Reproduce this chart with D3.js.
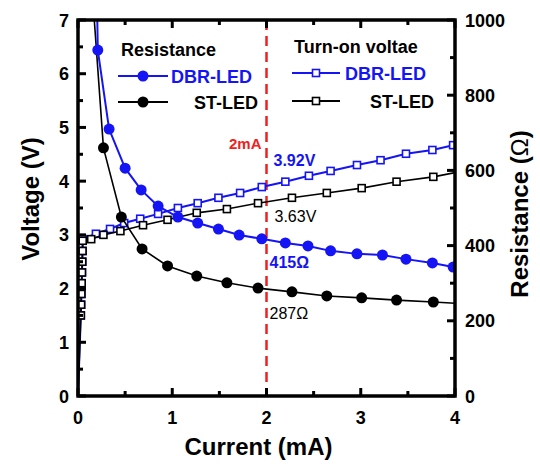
<!DOCTYPE html>
<html>
<head>
<meta charset="utf-8">
<script src="https://cdn.jsdelivr.net/npm/d3@7"></script>
<style>
  body { margin: 0; background: #fff; }
  svg { display: block; font-family: "Liberation Sans", Arial, sans-serif; }
</style>
</head>
<body>
<script>
// resistance series (right axis, Ω)
const dbrResCurrent = [0.195, 0.21, 0.33, 0.50, 0.67, 0.85, 1.06, 1.27, 1.49, 1.71, 1.95, 2.20, 2.44, 2.68, 2.96, 3.23, 3.48, 3.76, 3.98];
const dbrResValue   = [1150, 920, 710, 606, 548, 505, 476, 460, 444, 428, 418, 407, 399, 386, 378, 375, 364, 354, 343];
const stResCurrent  = [0.15, 0.27, 0.46, 0.68, 0.95, 1.26, 1.58, 1.91, 2.27, 2.64, 3.01, 3.38, 3.77, 4.10];
const stResValue    = [1080, 660, 476, 391, 346, 319, 301, 287, 277, 266, 261, 255, 250, 245];

// turn-on voltage series (left axis, V)
const dbrVCurrent = [0, 0.02, 0.03, 0.033, 0.036, 0.039, 0.042, 0.045, 0.048, 0.05, 0.19, 0.34, 0.49, 0.66, 0.85, 1.06, 1.27, 1.49, 1.72, 1.95, 2.20, 2.45, 2.68, 2.96, 3.21, 3.48, 3.76, 3.98];
const dbrVValue   = [0, 1.0, 1.5, 1.7, 1.9, 2.1, 2.3, 2.5, 2.7, 2.92, 3.02, 3.11, 3.22, 3.30, 3.39, 3.50, 3.59, 3.69, 3.78, 3.89, 3.99, 4.10, 4.19, 4.30, 4.39, 4.51, 4.58, 4.67];
const stVCurrent  = [0, 0.02, 0.03, 0.033, 0.036, 0.039, 0.042, 0.045, 0.048, 0.05, 0.14, 0.27, 0.45, 0.69, 0.95, 1.26, 1.58, 1.91, 2.27, 2.64, 3.01, 3.38, 3.77, 4.12];
const stVValue    = [0, 1.0, 1.5, 1.7, 1.9, 2.1, 2.3, 2.5, 2.7, 2.89, 2.92, 3.00, 3.07, 3.18, 3.28, 3.41, 3.48, 3.59, 3.69, 3.78, 3.87, 3.99, 4.08, 4.20];

const xTicks = [0, 1, 2, 3, 4];
const vTicks = [0, 1, 2, 3, 4, 5, 6, 7];
const rTicks = [0, 200, 400, 600, 800, 1000];
const markCurrent = 2;

const blue = "#1414f5";
const red = "#f02020";
const width = 540, height = 464;
const pLeft = 78, pRight = 455, pTop = 20, pBottom = 396;

const svg = d3.select("body").append("svg")
  .attr("width", width)
  .attr("height", height);

const x = d3.scaleLinear().domain([0, 4]).range([pLeft, pRight]);
const yV = d3.scaleLinear().domain([0, 7]).range([pBottom, pTop]);
const yR = d3.scaleLinear().domain([0, 1000]).range([pBottom, pTop]);

svg.append("clipPath").attr("id", "plot")
  .append("rect")
  .attr("x", pLeft).attr("y", pTop)
  .attr("width", pRight - pLeft).attr("height", pBottom - pTop);

const zip = (a, b) => a.map((v, i) => [v, b[i]]);

const plot = svg.append("g").attr("clip-path", "url(#plot)");

// 2 mA guide
plot.append("line")
  .attr("x1", x(markCurrent)).attr("x2", x(markCurrent))
  .attr("y1", pTop).attr("y2", pBottom)
  .attr("stroke", red).attr("stroke-width", 2.5)
  .attr("stroke-dasharray", "10,6");

const series = [
  {pts: zip(dbrVCurrent, dbrVValue), y: yV, color: blue, shape: "square"},
  {pts: zip(stVCurrent, stVValue), y: yV, color: "#000", shape: "square"},
  {pts: zip(stResCurrent, stResValue), y: yR, color: "#000", shape: "circle"},
  {pts: zip(dbrResCurrent, dbrResValue), y: yR, color: blue, shape: "circle"},
];

series.forEach(s => {
  const line = d3.line().x(d => x(d[0])).y(d => s.y(d[1]));
  plot.append("path")
    .attr("d", line(s.pts))
    .attr("fill", "none")
    .attr("stroke", s.color)
    .attr("stroke-width", s.color === blue ? 2 : 1.6);

  const pts = s.pts.filter(d => d[1] > 1.2);
  if (s.shape === "circle") {
    plot.selectAll(null).data(pts).join("circle")
      .attr("cx", d => x(d[0])).attr("cy", d => s.y(d[1]))
      .attr("r", 5.5).attr("fill", s.color);
  } else {
    plot.selectAll(null).data(pts).join("rect")
      .attr("x", d => x(d[0]) - 3.5).attr("y", d => s.y(d[1]) - 3.5)
      .attr("width", 7).attr("height", 7)
      .attr("fill", "#fff").attr("stroke", s.color).attr("stroke-width", 1.6);
  }
});

// axes with inward ticks
const axisG = svg.append("g");
function ticks(scale, values, minor, orient) {
  const g = axisG.append("g");
  const mk = (v, len) => {
    if (orient === "bottom") g.append("line").attr("x1", scale(v)).attr("x2", scale(v)).attr("y1", pBottom).attr("y2", pBottom - len);
    if (orient === "top") g.append("line").attr("x1", scale(v)).attr("x2", scale(v)).attr("y1", pTop).attr("y2", pTop + len);
    if (orient === "left") g.append("line").attr("y1", scale(v)).attr("y2", scale(v)).attr("x1", pLeft).attr("x2", pLeft + len);
    if (orient === "right") g.append("line").attr("y1", scale(v)).attr("y2", scale(v)).attr("x1", pRight).attr("x2", pRight - len);
  };
  values.forEach(v => mk(v, 8));
  minor.forEach(v => mk(v, 5));
  g.selectAll("line").attr("stroke", "#000").attr("stroke-width", 3);
}
const halves = (vals, step) => vals.slice(0, -1).map(v => v + step / 2);
ticks(x, xTicks, halves(xTicks, 1), "bottom");
ticks(x, xTicks, halves(xTicks, 1), "top");
ticks(yV, vTicks, halves(vTicks, 1), "left");
ticks(yR, rTicks, halves(rTicks, 200), "right");

axisG.append("rect")
  .attr("x", pLeft).attr("y", pTop)
  .attr("width", pRight - pLeft).attr("height", pBottom - pTop)
  .attr("fill", "none").attr("stroke", "#000").attr("stroke-width", 3.5);

// tick labels
svg.append("g").selectAll("text").data(xTicks).join("text")
  .attr("x", d => x(d)).attr("y", 424)
  .attr("text-anchor", "middle")
  .attr("font-size", 18).attr("font-weight", "bold")
  .text(d => d);
svg.append("g").selectAll("text").data(vTicks).join("text")
  .attr("x", 69).attr("y", d => yV(d) + 6.5)
  .attr("text-anchor", "end")
  .attr("font-size", 18).attr("font-weight", "bold")
  .text(d => d);
svg.append("g").selectAll("text").data(rTicks).join("text")
  .attr("x", 465).attr("y", d => yR(d) + 6.5)
  .attr("font-size", 18).attr("font-weight", "bold")
  .text(d => d);

// axis titles
svg.append("text")
  .attr("x", (pLeft + pRight) / 2 - 8).attr("y", 455)
  .attr("text-anchor", "middle")
  .attr("font-size", 24).attr("font-weight", "bold")
  .text("Current (mA)");
svg.append("text")
  .attr("transform", "translate(39,199) rotate(-90)")
  .attr("text-anchor", "middle")
  .attr("font-size", 24).attr("font-weight", "bold")
  .text("Voltage (V)");
const rTitle = svg.append("text")
  .attr("transform", "translate(528,214) rotate(-90)")
  .attr("text-anchor", "middle")
  .attr("font-size", 24).attr("font-weight", "bold");
rTitle.append("tspan").text("Resistance (");
rTitle.append("tspan").attr("font-weight", "normal").text("Ω");
rTitle.append("tspan").text(")");

// legends
function legendRow(x0, x1, y, color, shape, label, labelX, anchor) {
  svg.append("line")
    .attr("x1", x0).attr("x2", x1).attr("y1", y).attr("y2", y)
    .attr("stroke", color).attr("stroke-width", 2);
  const cx = (x0 + x1) / 2;
  if (shape === "circle") {
    svg.append("circle").attr("cx", cx).attr("cy", y).attr("r", 5.5).attr("fill", color);
  } else {
    svg.append("rect").attr("x", cx - 3.5).attr("y", y - 3.5).attr("width", 7).attr("height", 7)
      .attr("fill", "#fff").attr("stroke", color).attr("stroke-width", 1.6);
  }
  svg.append("text")
    .attr("x", labelX).attr("y", y + 6.5)
    .attr("text-anchor", anchor)
    .attr("font-size", 18).attr("font-weight", "bold")
    .attr("fill", color)
    .text(label);
}
svg.append("text").attr("x", 121).attr("y", 56)
  .attr("font-size", 18).attr("font-weight", "bold").text("Resistance");
legendRow(118, 168, 76, blue, "circle", "DBR-LED", 171, "start");
legendRow(118, 168, 102, "#000", "circle", "ST-LED", 258, "end");

svg.append("text").attr("x", 294).attr("y", 53)
  .attr("font-size", 18).attr("font-weight", "bold").text("Turn-on voltae");
legendRow(292, 340, 73, blue, "square", "DBR-LED", 345, "start");
legendRow(292, 340, 101, "#000", "square", "ST-LED", 434, "end");

// 2 mA annotations
const xm = x(markCurrent);
svg.append("text").attr("x", xm - 5).attr("y", 149)
  .attr("text-anchor", "end").attr("font-size", 15).attr("font-weight", "bold")
  .attr("fill", red).text("2mA");
svg.append("text").attr("x", xm + 7).attr("y", 166)
  .attr("font-size", 16).attr("font-weight", "bold").attr("fill", blue).text("3.92V");
svg.append("text").attr("x", xm + 8).attr("y", 222)
  .attr("font-size", 16).attr("fill", "#000").text("3.63V");
svg.append("text").attr("x", xm + 3).attr("y", 268)
  .attr("font-size", 16).attr("font-weight", "bold").attr("fill", blue).text("415Ω");
svg.append("text").attr("x", xm + 3).attr("y", 319)
  .attr("font-size", 16).attr("fill", "#000").text("287Ω");
</script>
</body>
</html>
